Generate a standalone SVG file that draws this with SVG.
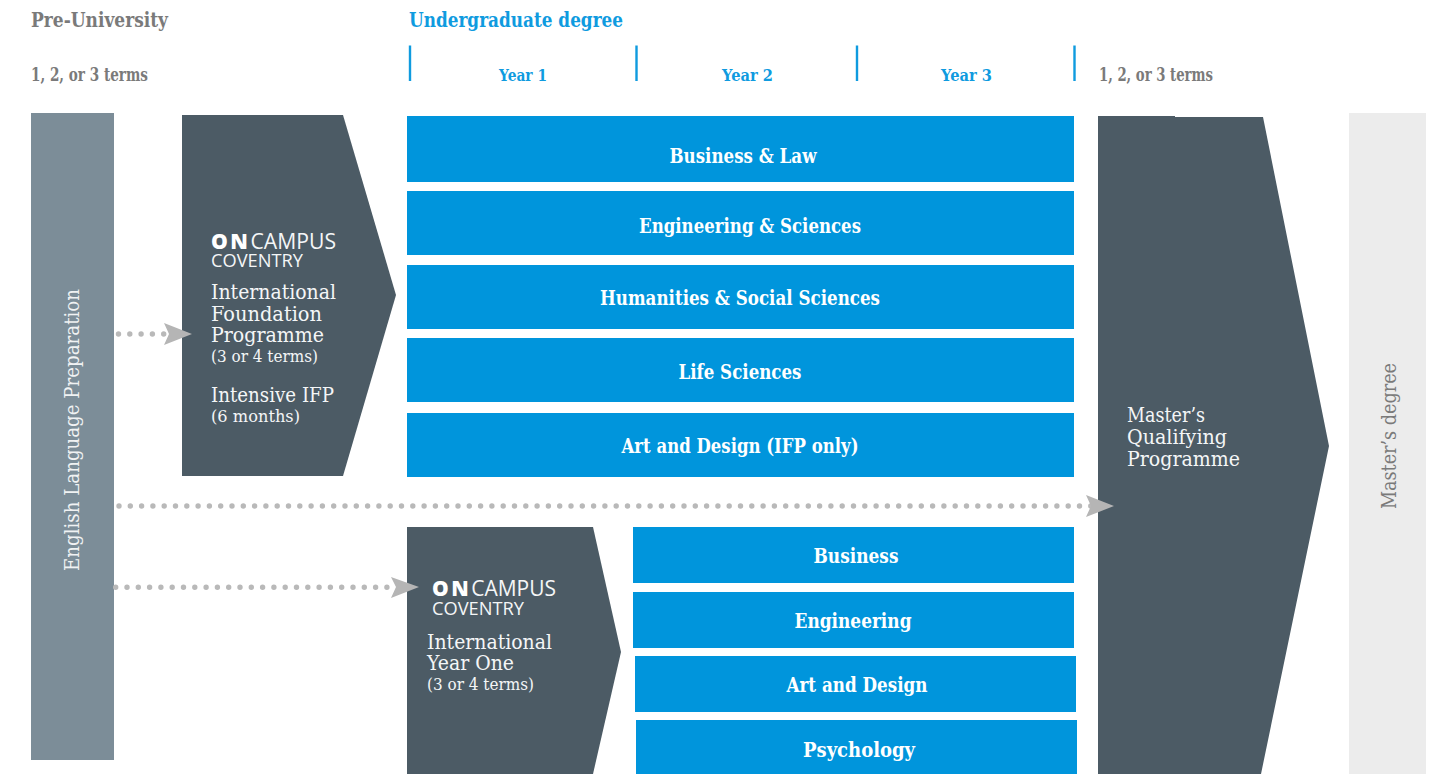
<svg xmlns="http://www.w3.org/2000/svg" width="1442" height="774" viewBox="0 0 1442 774">
<style>
text{font-family:"DejaVu Serif","Liberation Serif",serif}
.h{font-size:20px;font-weight:bold;fill:#7a7a7a}
.hb{fill:#0f9bdf}
.s{font-size:18px;font-weight:bold;fill:#7a7a7a}
.y{font-size:17.500px;font-weight:bold;fill:#0f9bdf}
.b{font-size:20px;font-weight:bold;fill:#fff}
.t{font-size:21px;fill:#f4f6f7}
.m{font-size:17.500px;fill:#f4f6f7}
.v{font-size:21px}
.on{font-family:"Open Sans","Liberation Sans",sans-serif;font-size:21px;fill:#f4f6f7}
.on tspan{font-weight:800;fill:#fff;letter-spacing:2.500px}
.co{font-family:"Open Sans","Liberation Sans",sans-serif;font-size:18px;fill:#f4f6f7}
.box{fill:#0095dc}
.dark{fill:#4c5b65}
.tick{stroke:#0f9bdf;stroke-width:2.4;fill:none}
.dots{stroke:#b9b9b9;stroke-width:5.400;stroke-linecap:round;stroke-dasharray:0 11.300;fill:none}
.head{fill:#b5b5b5}
</style>
<g id="headers">
<text class="h" x="31" y="27" textLength="137" lengthAdjust="spacingAndGlyphs">Pre-University</text>
<text class="h hb" x="409" y="27" textLength="214" lengthAdjust="spacingAndGlyphs">Undergraduate degree</text>
<text class="s" x="31" y="81" textLength="117" lengthAdjust="spacingAndGlyphs">1, 2, or 3 terms</text>
<text class="s" x="1099" y="81" textLength="114" lengthAdjust="spacingAndGlyphs">1, 2, or 3 terms</text>
<path class="tick" d="M410 45.500V81M636.500 45.500V81M857 45.500V81M1074.500 45.500V81"/>
<text class="y" x="499" y="80.500" textLength="48" lengthAdjust="spacingAndGlyphs">Year 1</text>
<text class="y" x="722" y="80.500" textLength="51" lengthAdjust="spacingAndGlyphs">Year 2</text>
<text class="y" x="941" y="80.500" textLength="51" lengthAdjust="spacingAndGlyphs">Year 3</text>
</g>
<g id="english-language">
<rect x="31" y="113" width="83" height="647" fill="#7c8d98"/>
<text class="v" fill="#f0f2f3" transform="translate(79 571) rotate(-90)" textLength="282" lengthAdjust="spacingAndGlyphs">English Language Preparation</text>
</g>
<g id="foundation">
<path class="dark" d="M182 115H343L396 295L343 476H182Z"/>
<text class="on" x="211" y="249" textLength="125" lengthAdjust="spacingAndGlyphs"><tspan>ON</tspan>CAMPUS</text>
<text class="co" x="211" y="267" textLength="92" lengthAdjust="spacingAndGlyphs">COVENTRY</text>
<text class="t" x="211" y="298.500" textLength="125" lengthAdjust="spacingAndGlyphs">International</text>
<text class="t" x="211" y="320.500" textLength="111" lengthAdjust="spacingAndGlyphs">Foundation</text>
<text class="t" x="211" y="342" textLength="113" lengthAdjust="spacingAndGlyphs">Programme</text>
<text class="m" x="211" y="362" textLength="107" lengthAdjust="spacingAndGlyphs">(3 or 4 terms)</text>
<text class="t" x="211" y="401.500" textLength="123" lengthAdjust="spacingAndGlyphs">Intensive IFP</text>
<text class="m" x="211" y="422" textLength="89" lengthAdjust="spacingAndGlyphs">(6 months)</text>
</g>
<g id="undergraduate-subjects">
<g id="business-law"><rect class="box" x="407" y="116" width="667" height="66"/><text class="b" x="743" y="162.500" text-anchor="middle" textLength="147" lengthAdjust="spacingAndGlyphs">Business &amp; Law</text></g>
<g id="engineering-sciences"><rect class="box" x="407" y="191" width="667" height="64"/><text class="b" x="750" y="232.500" text-anchor="middle" textLength="222" lengthAdjust="spacingAndGlyphs">Engineering &amp; Sciences</text></g>
<g id="humanities"><rect class="box" x="407" y="265" width="667" height="64"/><text class="b" x="740" y="304.500" text-anchor="middle" textLength="280" lengthAdjust="spacingAndGlyphs">Humanities &amp; Social Sciences</text></g>
<g id="life-sciences"><rect class="box" x="407" y="338" width="667" height="64"/><text class="b" x="740" y="378.500" text-anchor="middle" textLength="123" lengthAdjust="spacingAndGlyphs">Life Sciences</text></g>
<g id="art-design-ifp"><rect class="box" x="407" y="413" width="667" height="64"/><text class="b" x="740" y="452.500" text-anchor="middle" textLength="237" lengthAdjust="spacingAndGlyphs">Art and Design (IFP only)</text></g>
</g>
<g id="year-one">
<path class="dark" d="M407 527H593L621 652L593 774H407Z"/>
<text class="on" x="432" y="596" textLength="124" lengthAdjust="spacingAndGlyphs"><tspan>ON</tspan>CAMPUS</text>
<text class="co" x="432" y="615" textLength="92" lengthAdjust="spacingAndGlyphs">COVENTRY</text>
<text class="t" x="427" y="648.500" textLength="125" lengthAdjust="spacingAndGlyphs">International</text>
<text class="t" x="427" y="669.500" textLength="87" lengthAdjust="spacingAndGlyphs">Year One</text>
<text class="m" x="427" y="690" textLength="107" lengthAdjust="spacingAndGlyphs">(3 or 4 terms)</text>
</g>
<g id="year-one-subjects">
<g id="business"><rect class="box" x="633" y="527" width="441" height="56"/><text class="b" x="856" y="562.500" text-anchor="middle" textLength="85" lengthAdjust="spacingAndGlyphs">Business</text></g>
<g id="engineering"><rect class="box" x="633" y="592" width="441" height="56"/><text class="b" x="853" y="627.500" text-anchor="middle" textLength="117" lengthAdjust="spacingAndGlyphs">Engineering</text></g>
<g id="art-design"><rect class="box" x="635" y="656" width="441" height="56"/><text class="b" x="857" y="691.500" text-anchor="middle" textLength="141" lengthAdjust="spacingAndGlyphs">Art and Design</text></g>
<g id="psychology"><rect class="box" x="636" y="720" width="441" height="54"/><text class="b" x="859" y="756.500" text-anchor="middle" textLength="112" lengthAdjust="spacingAndGlyphs">Psychology</text></g>
</g>
<g id="masters-qualifying">
<path class="dark" d="M1098 116H1175V117H1263L1329 446L1261 774H1098Z"/>
<text class="t" x="1127" y="421.500" textLength="78" lengthAdjust="spacingAndGlyphs">Master’s</text>
<text class="t" x="1127" y="443.500" textLength="100" lengthAdjust="spacingAndGlyphs">Qualifying</text>
<text class="t" x="1127" y="465.500" textLength="113" lengthAdjust="spacingAndGlyphs">Programme</text>
</g>
<g id="masters-degree">
<rect x="1349" y="113" width="77" height="661" fill="#ececec"/>
<text class="v" fill="#7a7a7a" transform="translate(1396 509) rotate(-90)" textLength="146" lengthAdjust="spacingAndGlyphs">Master’s degree</text>
</g>
<g id="connectors">
<path class="dots" d="M118.500 334H170"/>
<path class="head" d="M164 323L192 334L164 345L169 334Z"/>
<path class="dots" d="M119 506H1092"/>
<path class="head" d="M1086 495L1114 506L1086 517L1091 506Z"/>
<path class="dots" d="M115.700 587.300H392"/>
<path class="head" d="M391 577L419 587L391 598L396 587Z"/>
</g>
</svg>
